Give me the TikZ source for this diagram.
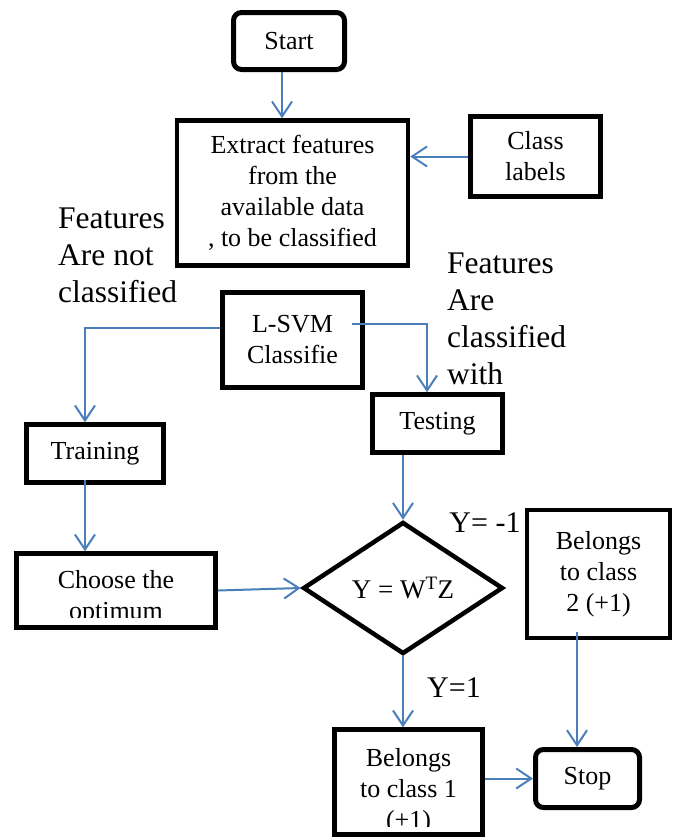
\documentclass[tikz,border=0pt]{standalone}
\usepackage{fontspec}
\setmainfont{Liberation Serif}
\usetikzlibrary{arrows.meta,shapes.geometric,positioning}
\definecolor{lineblue}{RGB}{74,126,187}

\begin{document}
\begin{tikzpicture}[x=1pt,y=-1pt]
    \tikzstyle{box}=[rectangle, draw=black, line width=4.5pt, align=center, inner sep=0pt, font=\fontsize{26}{31}\selectfont]
    \tikzstyle{term}=[box, line width=5pt, rounded corners=8pt]
    \tikzstyle{decide}=[diamond, draw=black, line width=4.5pt, inner sep=0pt, font=\fontsize{27}{31}\selectfont]
    \tikzstyle{note}=[align=left, anchor=north west, inner sep=0pt, font=\fontsize{31.5}{37}\selectfont]
    \tikzstyle{cond}=[inner sep=0pt, font=\fontsize{30}{36}\selectfont]
    \tikzstyle{connect}=[-{Straight Barb[length=15pt,width=20pt]}, line width=2pt, draw=lineblue]
    \useasboundingbox (0,0) rectangle (681,838);
    \node[term, minimum width=111pt, minimum height=57pt] (start) at (289,41) {Start};
    \node[box, minimum width=231pt, minimum height=145pt] (extract) at (292.5,193) {Extract features\\from the\\available data\\, to be classified};
    \node[box, minimum width=130pt, minimum height=80pt] (labels) at (535.5,156.5) {Class\\labels};
    \node[box, minimum width=140pt, minimum height=95pt] (lsvm) at (292.5,340) {L-SVM\\Classifie};
    \node[box, minimum width=130pt, minimum height=58pt] (testing) at (437.5,423.5) {Testing};
    \node[box, minimum width=137pt, minimum height=58pt] (training) at (95,453.5) {Training};
    \node[box, minimum width=199pt, minimum height=74pt] (choose) at (116,590.5) {};
    \node[decide, minimum width=200pt, minimum height=132pt] (yz) at (403,588) {Y = W\textsuperscript{T}Z};
    \node[box, minimum width=143pt, minimum height=128pt] (class2) at (598.5,574) {Belongs\\to class\\2 (+1)};
    \node[box, minimum width=148pt, minimum height=105pt] (class1) at (408.5,782) {};
    \node[term, minimum width=104pt, minimum height=58pt] (stop) at (587.5,778.5) {Stop};
    % text cut off at the bottom of the box
    \begin{scope}
        \clip (14,550) rectangle (218,617);
        \node[align=center, font=\fontsize{26}{31}\selectfont] (choosetext) at (116,598) {Choose the\\optimum};
    \end{scope}
    \begin{scope}
        \clip (332,727) rectangle (485,826);
        \node[align=center, font=\fontsize{26}{31}\selectfont] (class1text) at (408.5,791) {Belongs\\to class 1\\(+1)};
    \end{scope}
    \node[note] (notcls) at (58,208) {Features\\Are not\\classified};
    \node[note] (iscls) at (447,253) {Features\\Are\\classified\\with};
    \node[cond] (neg) at (485,523) {Y= -1};
    \node[cond] (pos) at (454,688) {Y=1};
    \draw[connect] ([xshift=-7pt]start.south) -- ([xshift=-10.5pt]extract.north);
    \draw[connect] (labels.west) -- (extract.east |- labels.west);
    \draw[connect] ([yshift=12pt]lsvm.west) -| ([xshift=-10pt]training.north);
    \draw[connect] ([shift={(-13pt,16pt)}]lsvm.east) -| ([xshift=-10.5pt]testing.north);
    \draw[connect] ([shift={(-10pt,5pt)}]training.south) -- ([xshift=-31pt]choose.north);
    \draw[connect] (choose.east) -- (yz.west);
    \draw[connect] (yz.north |- testing.south) -- (yz.north);
    \draw[connect] (yz.south) -- (yz.south |- class1.north);
    \draw[connect] ([shift={(-21.5pt,8pt)}]class2.south) -- ([xshift=-10.5pt]stop.north);
    \draw[connect] (class1.east |- stop.west) -- (stop.west);
\end{tikzpicture}
\end{document}
